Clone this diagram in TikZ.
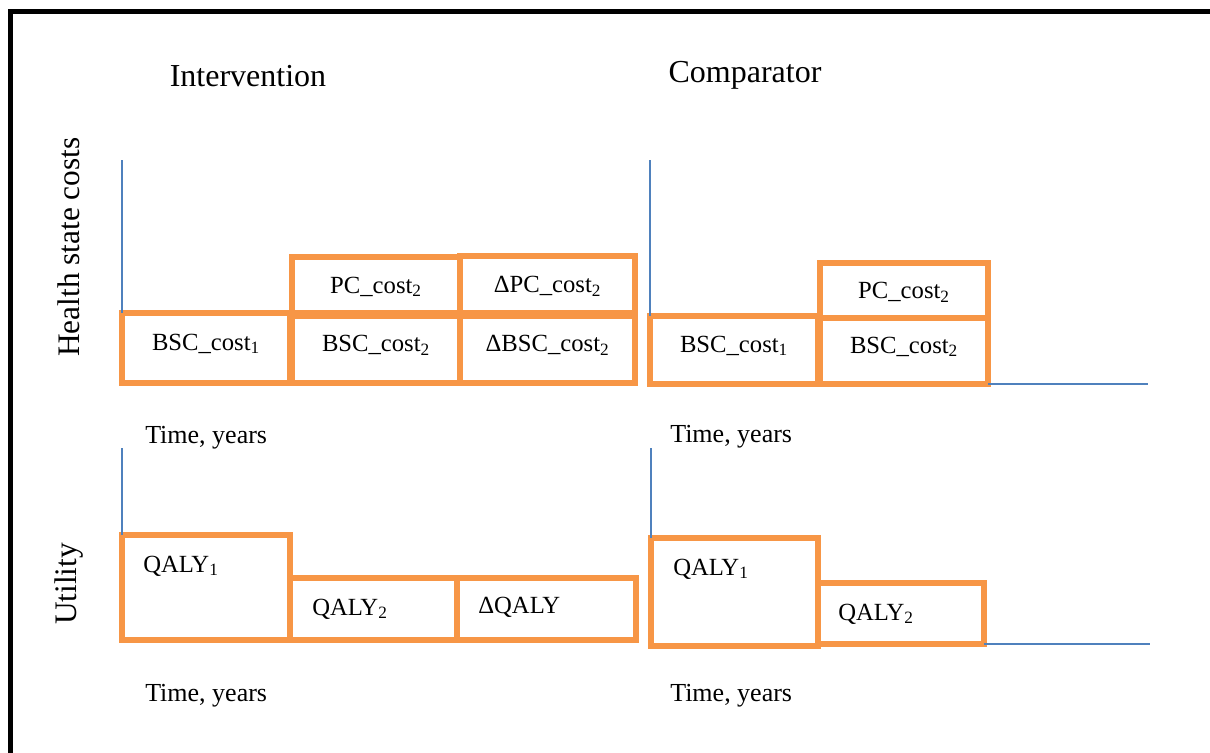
\documentclass[tikz,border=0pt]{standalone}
\usepackage{fontspec}
\setmainfont{Liberation Serif}
\definecolor{orng}{HTML}{F79646}
\definecolor{axblue}{HTML}{4F81BD}
\begin{document}
\begin{tikzpicture}[x=0.75pt,y=-0.75pt,
  box/.style={draw=orng, line width=4.1pt, outer sep=0pt, inner sep=0pt, anchor=north west, font=\fontsize{18.5}{20}\selectfont, text height=8pt, text depth=4.6pt},
  ctr/.style={text height=14pt, text depth=1.8pt},
  sz/.style 2 args={minimum width={#1*0.75pt}, minimum height={#2*0.75pt}},
  axis/.style={draw=axblue, line width=1.1pt},
  framel/.style={draw=black, line width=3.8pt},
  title/.style={font=\fontsize{24}{28}\selectfont},
  side/.style={font=\fontsize{23.5}{28}\selectfont, rotate=90},
  tlab/.style={font=\fontsize{19.5}{22}\selectfont, anchor=west, inner sep=0pt},
  qlab/.style={font=\fontsize{18.5}{20}\selectfont, anchor=west, inner sep=0pt}]
\useasboundingbox (0,0) rectangle (1210,753);
\fill[white] (0,0) rectangle (1210,753);
% frame
\coordinate (f1) at (10.5,753);
\coordinate (f2) at (10.5,11.5);
\coordinate (f3) at (1210,11.5);
\draw[framel] (f1) -- (f2) -- (f3);
% titles
\node[title] (tint) at (248,76) {Intervention};
\node[title] (tcmp) at (745,75) {Comparator};
\node[side] (hsc) at (69,247) {Health state costs};
\node[side] (util) at (69,584) {Utility};
% ---------- Intervention costs
\node[box, sz={168}{70}] (ib1) at (122,313) {BSC\_cost\textsubscript{1}};
\node[box, ctr, sz={168}{56}] (ip2) at (292,257) {PC\_cost\textsubscript{2}};
\node[box, sz={168}{67}] (ib2) at (292,316) {BSC\_cost\textsubscript{2}};
\node[box, ctr, sz={175}{57}] (idp) at (460,256) {ΔPC\_cost\textsubscript{2}};
\node[box, sz={175}{67}] (idb) at (460,316) {ΔBSC\_cost\textsubscript{2}};
\coordinate (iatop) at (122,160);
\draw[axis] (iatop) -- (ib1.north west);
\node[tlab] (it1) at (145,438) {Time, years};
% ---------- Comparator costs
\node[box, sz={168}{68}] (cb1) at (650,316) {BSC\_cost\textsubscript{1}};
\node[box, ctr, sz={168}{55}] (cp2) at (820,263) {PC\_cost\textsubscript{2}};
\node[box, sz={168}{66}] (cb2) at (820,318) {BSC\_cost\textsubscript{2}};
\coordinate (catop) at (650,160);
\coordinate (caend) at (1148,384);
\draw[axis] (catop) -- (cb1.north west);
\draw[axis] (cb2.south east) -- (caend);
\node[tlab] (ct1) at (670,437) {Time, years};
% ---------- Intervention utility
\node[box, sz={168}{105}] (iq1) at (122,535) {};
\node[box, sz={167}{62}] (iq2) at (290,578) {};
\node[box, sz={179}{62}] (idq) at (457,578) {};
\node[qlab] (iq1t) at (143,566) {QALY\textsubscript{1}};
\node[qlab] (iq2t) at (312,609) {QALY\textsubscript{2}};
\node[qlab] (idqt) at (478,607) {ΔQALY};
\coordinate (iutop) at (122,448);
\draw[axis] (iutop) -- (iq1.north west);
\node[tlab] (it2) at (145,696) {Time, years};
% ---------- Comparator utility
\node[box, sz={167}{108}] (cq1) at (651,538) {};
\node[box, sz={166}{61}] (cq2) at (818,583) {};
\node[qlab] (cq1t) at (673,569) {QALY\textsubscript{1}};
\node[qlab] (cq2t) at (838,614) {QALY\textsubscript{2}};
\coordinate (cutop) at (651,448);
\coordinate (cuend) at (1150,644);
\draw[axis] (cutop) -- (cq1.north west);
\draw[axis] (cq2.south east) -- (cuend);
\node[tlab] (ct2) at (670,696) {Time, years};
\end{tikzpicture}
\end{document}
